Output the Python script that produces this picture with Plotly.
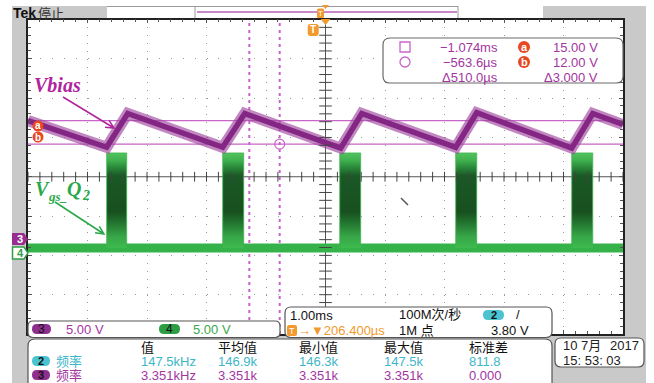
import numpy as np
import plotly.graph_objects as go

W, H = 654, 383

# graticule placement on the screen (pixels)
GX0, GX1, GY0, GY1 = 28, 623, 19.5, 334

# horizontal: 10 div x 1.00 ms, screen centre 206.4 us after trigger
MS_PER_DIV = 1.0
H_DELAY_MS = 0.2064
X_MIN = H_DELAY_MS - 5 * MS_PER_DIV
X_MAX = H_DELAY_MS + 5 * MS_PER_DIV

# vertical: 8 div, CH3 and CH4 both 5.00 V/div
V_PER_DIV = 5.0
CH3_POS_DIV = -1.571
CH4_POS_DIV = -1.927

# CH3  Vbias : sawtooth corner points (time in ms, level in V)
vbias_t_ms = [X_MIN, -3.471, -3.118, -1.521, -1.151, 0.462, 0.815, 2.395, 2.748, 4.345, 4.698, X_MAX]
vbias_v = [15.0, 11.6, 15.9, 11.6, 15.9, 11.5, 15.9, 11.6, 16.0, 11.5, 15.9, 14.5]

# CH4  Vgs_Q2 : switching bursts (start / stop in ms) and levels in V
gate_on_ms = [-3.471, -1.521, 0.446, 2.395, 4.345]
gate_off_ms = [-3.135, -1.168, 0.798, 2.748, 4.698]
gate_high_v = 12.66
gate_low_v = 0.57

# cursors
cursor_t_ms = [-1.074, -0.5636]
cursor_v = [15.0, 12.0]
cursor_readout = [["−1.074ms", "15.00 V"], ["−563.6µs", "12.00 V"], ["Δ510.0µs", "Δ3.000 V"]]

# measurement table
meas_headers = ["值", "平均值", "最小值", "最大值", "标准差"]
meas_ch2 = ["147.5kHz", "146.9k", "146.3k", "147.5k", "811.8"]
meas_ch3 = ["3.351kHz", "3.351k", "3.351k", "3.351k", "0.000"]
meas_name = "频率"

SANS = "Liberation Sans, Noto Sans CJK SC, sans-serif"
SERIF = "Liberation Serif, DejaVu Serif, serif"
PURPLE_TXT = "#a3359f"
CYAN_TXT = "#3db6c8"
GREEN_TXT = "#3aa84a"
ORANGE = "#f29a2e"
CURSOR = "#c766c7"
FRAME_GRAY = "#c9c9c9"


def ch3(vals):
    return [v / V_PER_DIV + CH3_POS_DIV for v in vals]


def ch4(vals):
    return [v / V_PER_DIV + CH4_POS_DIV for v in vals]


def t2px(t):
    return GX0 + (t - X_MIN) / (X_MAX - X_MIN) * (GX1 - GX0)


def pp(x, y):
    return f"{x / W:.5f},{1 - y / H:.5f}"


def rect(x0, y0, x1, y1, fill, line=None, lw=1, layer="below"):
    return dict(type="rect", xref="paper", yref="paper",
                x0=x0 / W, x1=x1 / W, y0=1 - y1 / H, y1=1 - y0 / H,
                fillcolor=fill, line=dict(width=lw if line else 0, color=line or fill),
                layer=layer)


def rrect(x0, y0, x1, y1, r, fill, line=None, lw=1.2, layer="above"):
    d = (f"M{pp(x0 + r, y0)} L{pp(x1 - r, y0)} Q{pp(x1, y0)} {pp(x1, y0 + r)} "
         f"L{pp(x1, y1 - r)} Q{pp(x1, y1)} {pp(x1 - r, y1)} L{pp(x0 + r, y1)} "
         f"Q{pp(x0, y1)} {pp(x0, y1 - r)} L{pp(x0, y0 + r)} Q{pp(x0, y0)} {pp(x0 + r, y0)} Z")
    return dict(type="path", xref="paper", yref="paper", path=d, fillcolor=fill,
                line=dict(width=lw if line else 0, color=line or fill), layer=layer)


def poly(pts, fill, line=None, lw=1, layer="above"):
    d = "M" + " L".join(pp(x, y) for x, y in pts) + " Z"
    return dict(type="path", xref="paper", yref="paper", path=d, fillcolor=fill,
                line=dict(width=lw if line else 0, color=line or fill), layer=layer)


def seg(x0, y0, x1, y1, color, lw=1, layer="above", dash=None):
    return dict(type="line", xref="paper", yref="paper", x0=x0 / W, x1=x1 / W,
                y0=1 - y0 / H, y1=1 - y1 / H,
                line=dict(color=color, width=lw, dash=dash), layer=layer)


def arrow(x0, y0, x1, y1, color, lw=1.5, head=9, spread=0.45):
    """Straight pointer with an open V head at (x1, y1)."""
    ang = np.arctan2(y1 - y0, x1 - x0)
    d = (f"M{pp(x0, y0)} L{pp(x1, y1)} "
         f"M{pp(x1 - head * np.cos(ang - spread), y1 - head * np.sin(ang - spread))} "
         f"L{pp(x1, y1)} "
         f"L{pp(x1 - head * np.cos(ang + spread), y1 - head * np.sin(ang + spread))}")
    return dict(type="path", xref="paper", yref="paper", path=d,
                line=dict(color=color, width=lw), layer="above")


def txt(x, y, s, color="#111", size=13, anchor="left", family=SANS):
    return dict(xref="paper", yref="paper", x=x / W, y=1 - y / H, text=s,
                showarrow=False, xanchor=anchor, yanchor="middle",
                font=dict(color=color, size=size, family=family), borderpad=0)


fig = go.Figure()

# ---------- CH4 gate drive ----------
fig.add_trace(go.Scatter(x=[X_MIN, X_MAX], y=ch4([gate_low_v, gate_low_v]), mode="lines",
                         line=dict(color="#36b24a", width=9), hoverinfo="skip"))
burst_scale = [[0.0, "#3dbb4e"], [0.12, "#38a648"], [0.26, "#237630"], [0.38, "#18501f"],
               [0.76, "#1a5826"], [0.85, "#2a8a3a"], [0.92, "#3fb04e"], [1.0, "#52c45e"]]
for t_on, t_off in zip(gate_on_ms, gate_off_ms):
    fig.add_trace(go.Scatter(
        x=[t_on, t_on, t_off, t_off],
        y=ch4([gate_low_v, gate_high_v, gate_high_v, gate_low_v]),
        mode="lines", fill="toself",
        fillgradient=dict(type="vertical", colorscale=burst_scale),
        line=dict(color="#3fb54f", width=0.8), hoverinfo="skip"))

# ---------- CH3 Vbias ----------
fig.add_trace(go.Scatter(x=vbias_t_ms, y=ch3(vbias_v), mode="lines",
                         line=dict(color="rgba(160,70,160,0.65)", width=11), hoverinfo="skip"))
fig.add_trace(go.Scatter(x=vbias_t_ms, y=ch3(vbias_v), mode="lines",
                         line=dict(color="#842684", width=5.5), hoverinfo="skip"))

# cursor crossing marker
fig.add_trace(go.Scatter(x=[cursor_t_ms[1]], y=ch3([cursor_v[1]]), mode="markers",
                         marker=dict(symbol="circle-open", size=10, color=CURSOR,
                                     line=dict(width=1.2, color=CURSOR)),
                         hoverinfo="skip"))

# centre-line tick marks of the graticule
xc_ticks = H_DELAY_MS + np.arange(-25, 26) * MS_PER_DIV / 5
yc_ticks = np.arange(-20, 21) / 5
fig.add_trace(go.Scatter(x=xc_ticks, y=np.zeros_like(xc_ticks), mode="markers",
                         marker=dict(symbol="line-ns", size=7, line=dict(width=1, color="#444")),
                         hoverinfo="skip"))
fig.add_trace(go.Scatter(x=np.full_like(yc_ticks, H_DELAY_MS), y=yc_ticks, mode="markers",
                         marker=dict(symbol="line-ew", size=9, line=dict(width=1, color="#444")),
                         hoverinfo="skip"))

shapes = []
# instrument frame and graticule background
shapes.append(rect(12, 6, 646, H + 2, FRAME_GRAY))
shapes.append(rect(GX0, GY0, GX1, GY1, "white"))
shapes.append(rect(107, 6, 543, GY0, "white"))
shapes.append(seg(107, 6.5, 458, 6.5, "#9a9a9a", 1, layer="below"))
shapes.append(seg(195, 6, 195, 19, "#9a9a9a", 1, layer="below"))
shapes.append(seg(458, 6, 458, 19, "#9a9a9a", 1, layer="below"))
shapes.append(seg(197, 12, 457, 12, "#c88ac8", 2.2, layer="below"))

# graticule centre lines
shapes.append(dict(type="line", xref="x", yref="y", x0=H_DELAY_MS, x1=H_DELAY_MS, y0=-4, y1=4,
                   line=dict(color="#555", width=1), layer="between"))
shapes.append(dict(type="line", xref="x", yref="y", x0=X_MIN, x1=X_MAX, y0=0, y1=0,
                   line=dict(color="#555", width=1), layer="between"))

# cursors
for cv in ch3(cursor_v):
    shapes.append(dict(type="line", xref="x", yref="y", x0=X_MIN, x1=X_MAX, y0=cv, y1=cv,
                       line=dict(color=CURSOR, width=1.3), layer="between"))
for ct in cursor_t_ms:
    shapes.append(dict(type="line", xref="x", yref="y", x0=ct, x1=ct, y0=-4, y1=4,
                       line=dict(color="#cc5fcc", width=2, dash="3px,4px"), layer="between"))

# small pointer mark
shapes.append(seg(401, 198, 408, 205, "#555", 1.5))

# label pointers
shapes.append(arrow(63, 97, 114, 128, "#b0249e"))
shapes.append(arrow(55, 202, 104, 234, "#2aa84a"))

# trigger indicators
tpx = t2px(0.0)
cpx = t2px(H_DELAY_MS)
shapes.append(rrect(tpx - 5.5, 24, tpx + 5.5, 36, 2.5, ORANGE))
shapes.append(rrect(cpx - 8.5, 8.5, cpx - 1.5, 18, 1.5, ORANGE, layer="below"))
shapes.append(poly([(cpx - 3.5, 5), (cpx + 3.5, 5), (cpx, 9)], ORANGE))
shapes.append(poly([(cpx - 5, 19), (cpx + 5, 19), (cpx, 25)], ORANGE))

# channel ground markers at the left edge
shapes.append(poly([(12, 233), (24, 233), (28, 239), (24, 245), (12, 245)], "#962d8f"))
shapes.append(poly([(12.5, 247), (24, 247), (28, 253), (24, 259), (12.5, 259)], "white",
                   line="#2e9e45", lw=1.5))

# cursor a / b level markers
for yy in (126, 137):
    shapes.append(dict(type="circle", xref="paper", yref="paper",
                       x0=(38 - 5.5) / W, x1=(38 + 5.5) / W,
                       y0=1 - (yy + 5.5) / H, y1=1 - (yy - 5.5) / H,
                       fillcolor="#e8471f", line=dict(width=0), layer="above"))

# cursor readout box
shapes.append(rrect(383, 38, 623, 83, 7, "white", "#6a6a6a", 1.2))
shapes.append(rect(400, 42, 410, 52, "rgba(0,0,0,0)", CURSOR, 1.3, layer="above"))
shapes.append(dict(type="circle", xref="paper", yref="paper",
                   x0=400 / W, x1=410 / W, y0=1 - 67 / H, y1=1 - 57 / H,
                   fillcolor="rgba(0,0,0,0)", line=dict(width=1.3, color=CURSOR), layer="above"))
for yy in (47, 62):
    shapes.append(dict(type="circle", xref="paper", yref="paper",
                       x0=(524 - 6) / W, x1=(524 + 6) / W,
                       y0=1 - (yy + 6) / H, y1=1 - (yy - 6) / H,
                       fillcolor="#e8471f", line=dict(width=0), layer="above"))

# bottom panels
shapes.append(rrect(28, 321, 280, 337.5, 5, "white", "#555", 1.2))
shapes.append(rrect(285, 307, 552, 337.5, 6, "white", "#555", 1.2))
shapes.append(rrect(28, 339, 552, 392, 7, "white", "#555", 1.2))
shapes.append(rrect(555, 338, 644, 367, 6, "white", "#555", 1.2))
# channel pills
shapes.append(rrect(32, 324, 51, 334, 5, "#8e2f8e"))
shapes.append(rrect(159, 324, 180, 334, 5, "#2e9e45"))
shapes.append(rrect(483, 310, 504, 320, 5, "#4cc3d0"))
shapes.append(rrect(32, 356, 50, 366, 5, "#4cc3d0"))
shapes.append(rrect(32, 370, 50, 380, 5, "#8e2f8e"))
shapes.append(rrect(287, 325, 297, 336, 2, ORANGE))

ann = []
ann.append(txt(12, 13, "<b>Tek</b>", "#111", 14))
ann.append(txt(37, 13, "停止", "#333", 13))
ann.append(txt(tpx, 30, "<b>T</b>", "white", 10, "center"))
ann.append(txt(cpx - 5, 13.5, "T", "white", 8, "center"))
ann.append(txt(20, 239, "<b>3</b>", "white", 11, "center"))
ann.append(txt(20, 253, "<b>4</b>", "#2e9e45", 11, "center"))
ann.append(txt(38, 126, "<b>a</b>", "white", 10, "center"))
ann.append(txt(38, 137, "<b>b</b>", "white", 10, "center"))

# waveform labels (Vgs_Q2 built from main and subscript pieces)
ann.append(txt(33, 85, "<b><i>Vbias</i></b>", "#b0249e", 20, family=SERIF))
VGS_GREEN = "#2aa84a"
ann.append(txt(34, 189, "<b><i>V</i></b>", VGS_GREEN, 20, family=SERIF))
ann.append(txt(47, 196, "<b><i>gs_</i></b>", VGS_GREEN, 13, family=SERIF))
ann.append(txt(66, 189, "<b><i>Q</i></b>", VGS_GREEN, 20, family=SERIF))
ann.append(txt(81, 195, "<b><i>2</i></b>", VGS_GREEN, 14, family=SERIF))

# cursor readout
for yy, row in zip((47, 62, 77), cursor_readout):
    ann.append(txt(499, yy, row[0], PURPLE_TXT, 13, "right"))
    ann.append(txt(599, yy, row[1], PURPLE_TXT, 13, "right"))
ann.append(txt(524, 47, "<b>a</b>", "white", 11, "center"))
ann.append(txt(524, 62, "<b>b</b>", "white", 11, "center"))

# channel scale box
ann.append(txt(41.5, 329, "3", "#111", 12, "center"))
ann.append(txt(65, 329, "5.00 V", PURPLE_TXT, 13))
ann.append(txt(169.5, 329, "4", "#111", 12, "center"))
ann.append(txt(192, 329, "5.00 V", GREEN_TXT, 13))

# timebase / trigger box
ann.append(txt(289, 315, "1.00ms", "#111", 13))
ann.append(txt(398, 314, "100M次/秒", "#111", 13))
ann.append(txt(493.5, 315, "<b>2</b>", "#111", 11, "center"))
ann.append(txt(515, 314, "/", "#111", 13))
ann.append(txt(292, 330.5, "T", "white", 9, "center"))
ann.append(txt(297, 330, "→▼206.400µs", ORANGE, 13))
ann.append(txt(398, 330, "1M 点", "#111", 13))
ann.append(txt(530, 330, "3.80 V", "#111", 13, "right"))

# measurement table
cols_px = [140, 217, 298, 383, 468]
for cx, hd, v2, v3 in zip(cols_px, meas_headers, meas_ch2, meas_ch3):
    ann.append(txt(cx, 347, hd, "#111", 13))
    ann.append(txt(cx, 361, v2, CYAN_TXT, 13))
    ann.append(txt(cx, 375, v3, PURPLE_TXT, 13))
ann.append(txt(41, 361, "<b>2</b>", "#111", 11, "center"))
ann.append(txt(41, 375, "<b>3</b>", "#111", 11, "center"))
ann.append(txt(55, 361, meas_name, CYAN_TXT, 13))
ann.append(txt(55, 375, meas_name, PURPLE_TXT, 13))

# date / time
ann.append(txt(562, 345, "10 7月", "#222", 13))
ann.append(txt(640, 345, "2017", "#222", 13, "right"))
ann.append(txt(562, 360, "15: 53: 03", "#222", 13))

axis_common = dict(showticklabels=False, showline=True, mirror="allticks",
                   linecolor="#222", linewidth=1.5, ticks="inside", ticklen=4,
                   tickcolor="#555", zeroline=False, showgrid=True,
                   gridcolor="#9a9a9a", gridwidth=1, fixedrange=True)

fig.update_layout(
    width=W, height=H,
    margin=dict(l=0, r=0, t=0, b=0, pad=0),
    paper_bgcolor="white",
    plot_bgcolor="rgba(0,0,0,0)",
    showlegend=False,
    xaxis=dict(domain=[GX0 / W, GX1 / W], range=[X_MIN, X_MAX],
               tick0=H_DELAY_MS, dtick=MS_PER_DIV, griddash="1px,6.86px",
               minor=dict(dtick=MS_PER_DIV / 5, tick0=H_DELAY_MS, ticks="inside",
                          ticklen=3, tickcolor="#555", showgrid=False),
               **axis_common),
    yaxis=dict(domain=[1 - GY1 / H, 1 - GY0 / H], range=[-4, 4],
               tick0=0, dtick=1, griddash="1px,10.9px",
               minor=dict(dtick=0.2, tick0=0, ticks="inside",
                          ticklen=3, tickcolor="#555", showgrid=False),
               **axis_common),
    shapes=shapes,
    annotations=ann,
)

fig.write_html("out.html")
